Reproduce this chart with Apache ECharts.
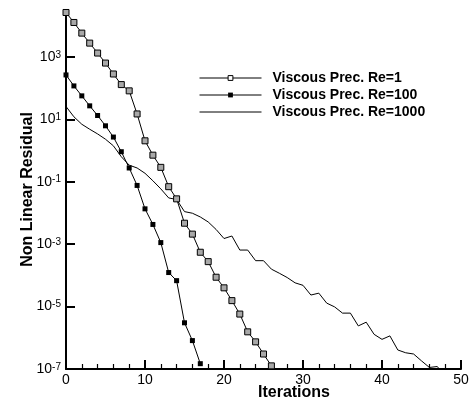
<!DOCTYPE html>
<html>
<head>
<meta charset="utf-8">
<script src="https://cdn.jsdelivr.net/npm/echarts@6/dist/echarts.min.js"></script>
<style>html,body{margin:0;padding:0;background:#fff}#c{width:471px;height:404px}</style>
</head>
<body>
<div id="c"></div>
<script>
const seriesNames = ['Viscous Prec. Re=1', 'Viscous Prec. Re=100', 'Viscous Prec. Re=1000'];
// residual per iteration (index = iteration)
const residualRe1 = [2.63e4, 1.26e4, 5.75e3, 2.75e3, 1.32e3, 631, 282, 129, 81.3, 14.8, 2.04, 0.708, 0.288, 0.0692, 0.0282, 4.68e-3, 2.09e-3, 5.50e-4, 2.75e-4, 8.71e-5, 3.98e-5, 1.55e-5, 5.75e-6, 1.55e-6, 7.41e-7, 3.02e-7, 1.26e-7];
const residualRe100 = [263, 117, 56.2, 26.9, 13.2, 6.17, 2.69, 0.912, 0.275, 0.0759, 0.0135, 4.27e-3, 1.12e-3, 1.23e-4, 6.76e-5, 3.02e-6, 8.13e-7, 1.48e-7];
const residualRe1000 = [25.7, 12.0, 6.92, 4.79, 3.39, 2.29, 1.41, 0.631, 0.339, 0.275, 0.186, 0.107, 0.0589, 0.0302, 0.0269, 0.0110, 9.77e-3, 7.41e-3, 5.13e-3, 2.95e-3, 1.51e-3, 1.82e-3, 6.46e-4, 6.46e-4, 2.95e-4, 2.95e-4, 1.58e-4, 1.17e-4, 8.51e-5, 5.75e-5, 4.79e-5, 2.34e-5, 2.69e-5, 1.29e-5, 9.77e-6, 6.17e-6, 6.17e-6, 2.40e-6, 3.16e-6, 1.29e-6, 8.91e-7, 1.15e-6, 4.07e-7, 3.31e-7, 3.02e-7, 1.82e-7, 1.12e-7, 1.20e-7, 5.62e-8];
const xTickLabels = [0, 10, 20, 30, 40, 50];
const yTickValues = [1e-7, 1e-5, 1e-3, 1e-1, 1e1, 1e3];
const yMin = 1e-7;
const yMax = Math.pow(10, 4.5);

const FONT = "'Liberation Sans', Arial, Helvetica, sans-serif";
const toPairs = arr => arr.map((v, i) => [i, v]);

const chart = echarts.init(document.getElementById('c'), null, {renderer: 'canvas'});
chart.setOption({
  animation: false,
  backgroundColor: '#fff',
  grid: {left: 66, right: 10, top: 10, bottom: 35, containLabel: false, outerBoundsMode: 'none'},
  legend: {
    orient: 'vertical', left: 194, top: 66,
    itemWidth: 62, itemHeight: 6, itemGap: 3,
    textStyle: {fontFamily: FONT, fontWeight: 'bold', fontSize: 14, color: '#000', lineHeight: 14, padding: [0, 0, 0, 6]},
    data: [
      {name: seriesNames[0], itemStyle: {color: '#fff', borderColor: '#000', borderWidth: 1}, lineStyle: {width: 1, color: '#000'}},
      {name: seriesNames[1], lineStyle: {width: 1, color: '#000'}},
      {name: seriesNames[2], itemStyle: {opacity: 0}, lineStyle: {width: 1, color: '#000'}}
    ]
  },
  xAxis: {
    type: 'value', min: xTickLabels[0], max: xTickLabels[xTickLabels.length - 1], interval: 10,
    axisLine: {onZero: false, lineStyle: {color: '#000', width: 2}},
    axisTick: {inside: true, length: 9, lineStyle: {color: '#000', width: 2}},
    minorTick: {show: true, splitNumber: 5, length: 5, lineStyle: {color: '#000', width: 1.2}},
    splitLine: {show: false},
    axisLabel: {color: '#000', fontSize: 14, fontFamily: FONT, margin: 4}
  },
  yAxis: {
    type: 'log', logBase: 10, min: yMin, max: yMax,
    name: 'Non Linear Residual', nameLocation: 'middle', nameGap: 30, nameRotate: 90, nameMoveOverlap: false,
    nameTextStyle: {fontFamily: FONT, fontWeight: 'bold', fontSize: 16, color: '#000'},
    axisLine: {show: true, onZero: false, lineStyle: {color: '#000', width: 2}},
    axisTick: {show: true, inside: true, length: 9, customValues: yTickValues, lineStyle: {color: '#000', width: 2}},
    minorTick: {show: false},
    splitLine: {show: false},
    axisLabel: {
      customValues: yTickValues, margin: 5,
      formatter: v => '{b|10}{s|' + Math.round(Math.log10(v)) + '}',
      rich: {
        b: {fontFamily: FONT, fontSize: 14, color: '#000', lineHeight: 14, verticalAlign: 'middle'},
        s: {fontFamily: FONT, fontSize: 10, color: '#000', lineHeight: 14, verticalAlign: 'top'}
      }
    }
  },
  graphic: [{
    type: 'text', x: 294, y: 393,
    style: {text: 'Iterations', font: 'bold 16px ' + FONT, fill: '#000', align: 'center', verticalAlign: 'middle', textAlign: 'center', textVerticalAlign: 'middle'}
  }],
  series: [
    {name: seriesNames[0], type: 'line', data: toPairs(residualRe1), symbol: 'rect', symbolSize: 6,
     lineStyle: {color: '#000', width: 1}, itemStyle: {color: '#a8a8a8', borderColor: '#000', borderWidth: 1}, z: 4},
    {name: seriesNames[1], type: 'line', data: toPairs(residualRe100), symbol: 'rect', symbolSize: 5,
     lineStyle: {color: '#000', width: 1}, itemStyle: {color: '#000', borderColor: '#000', borderWidth: 0}, z: 3},
    {name: seriesNames[2], type: 'line', data: toPairs(residualRe1000), symbol: 'none', clip: true,
     lineStyle: {color: '#000', width: 1}, itemStyle: {color: '#000'}, z: 2}
  ]
});
</script>
</body>
</html>
